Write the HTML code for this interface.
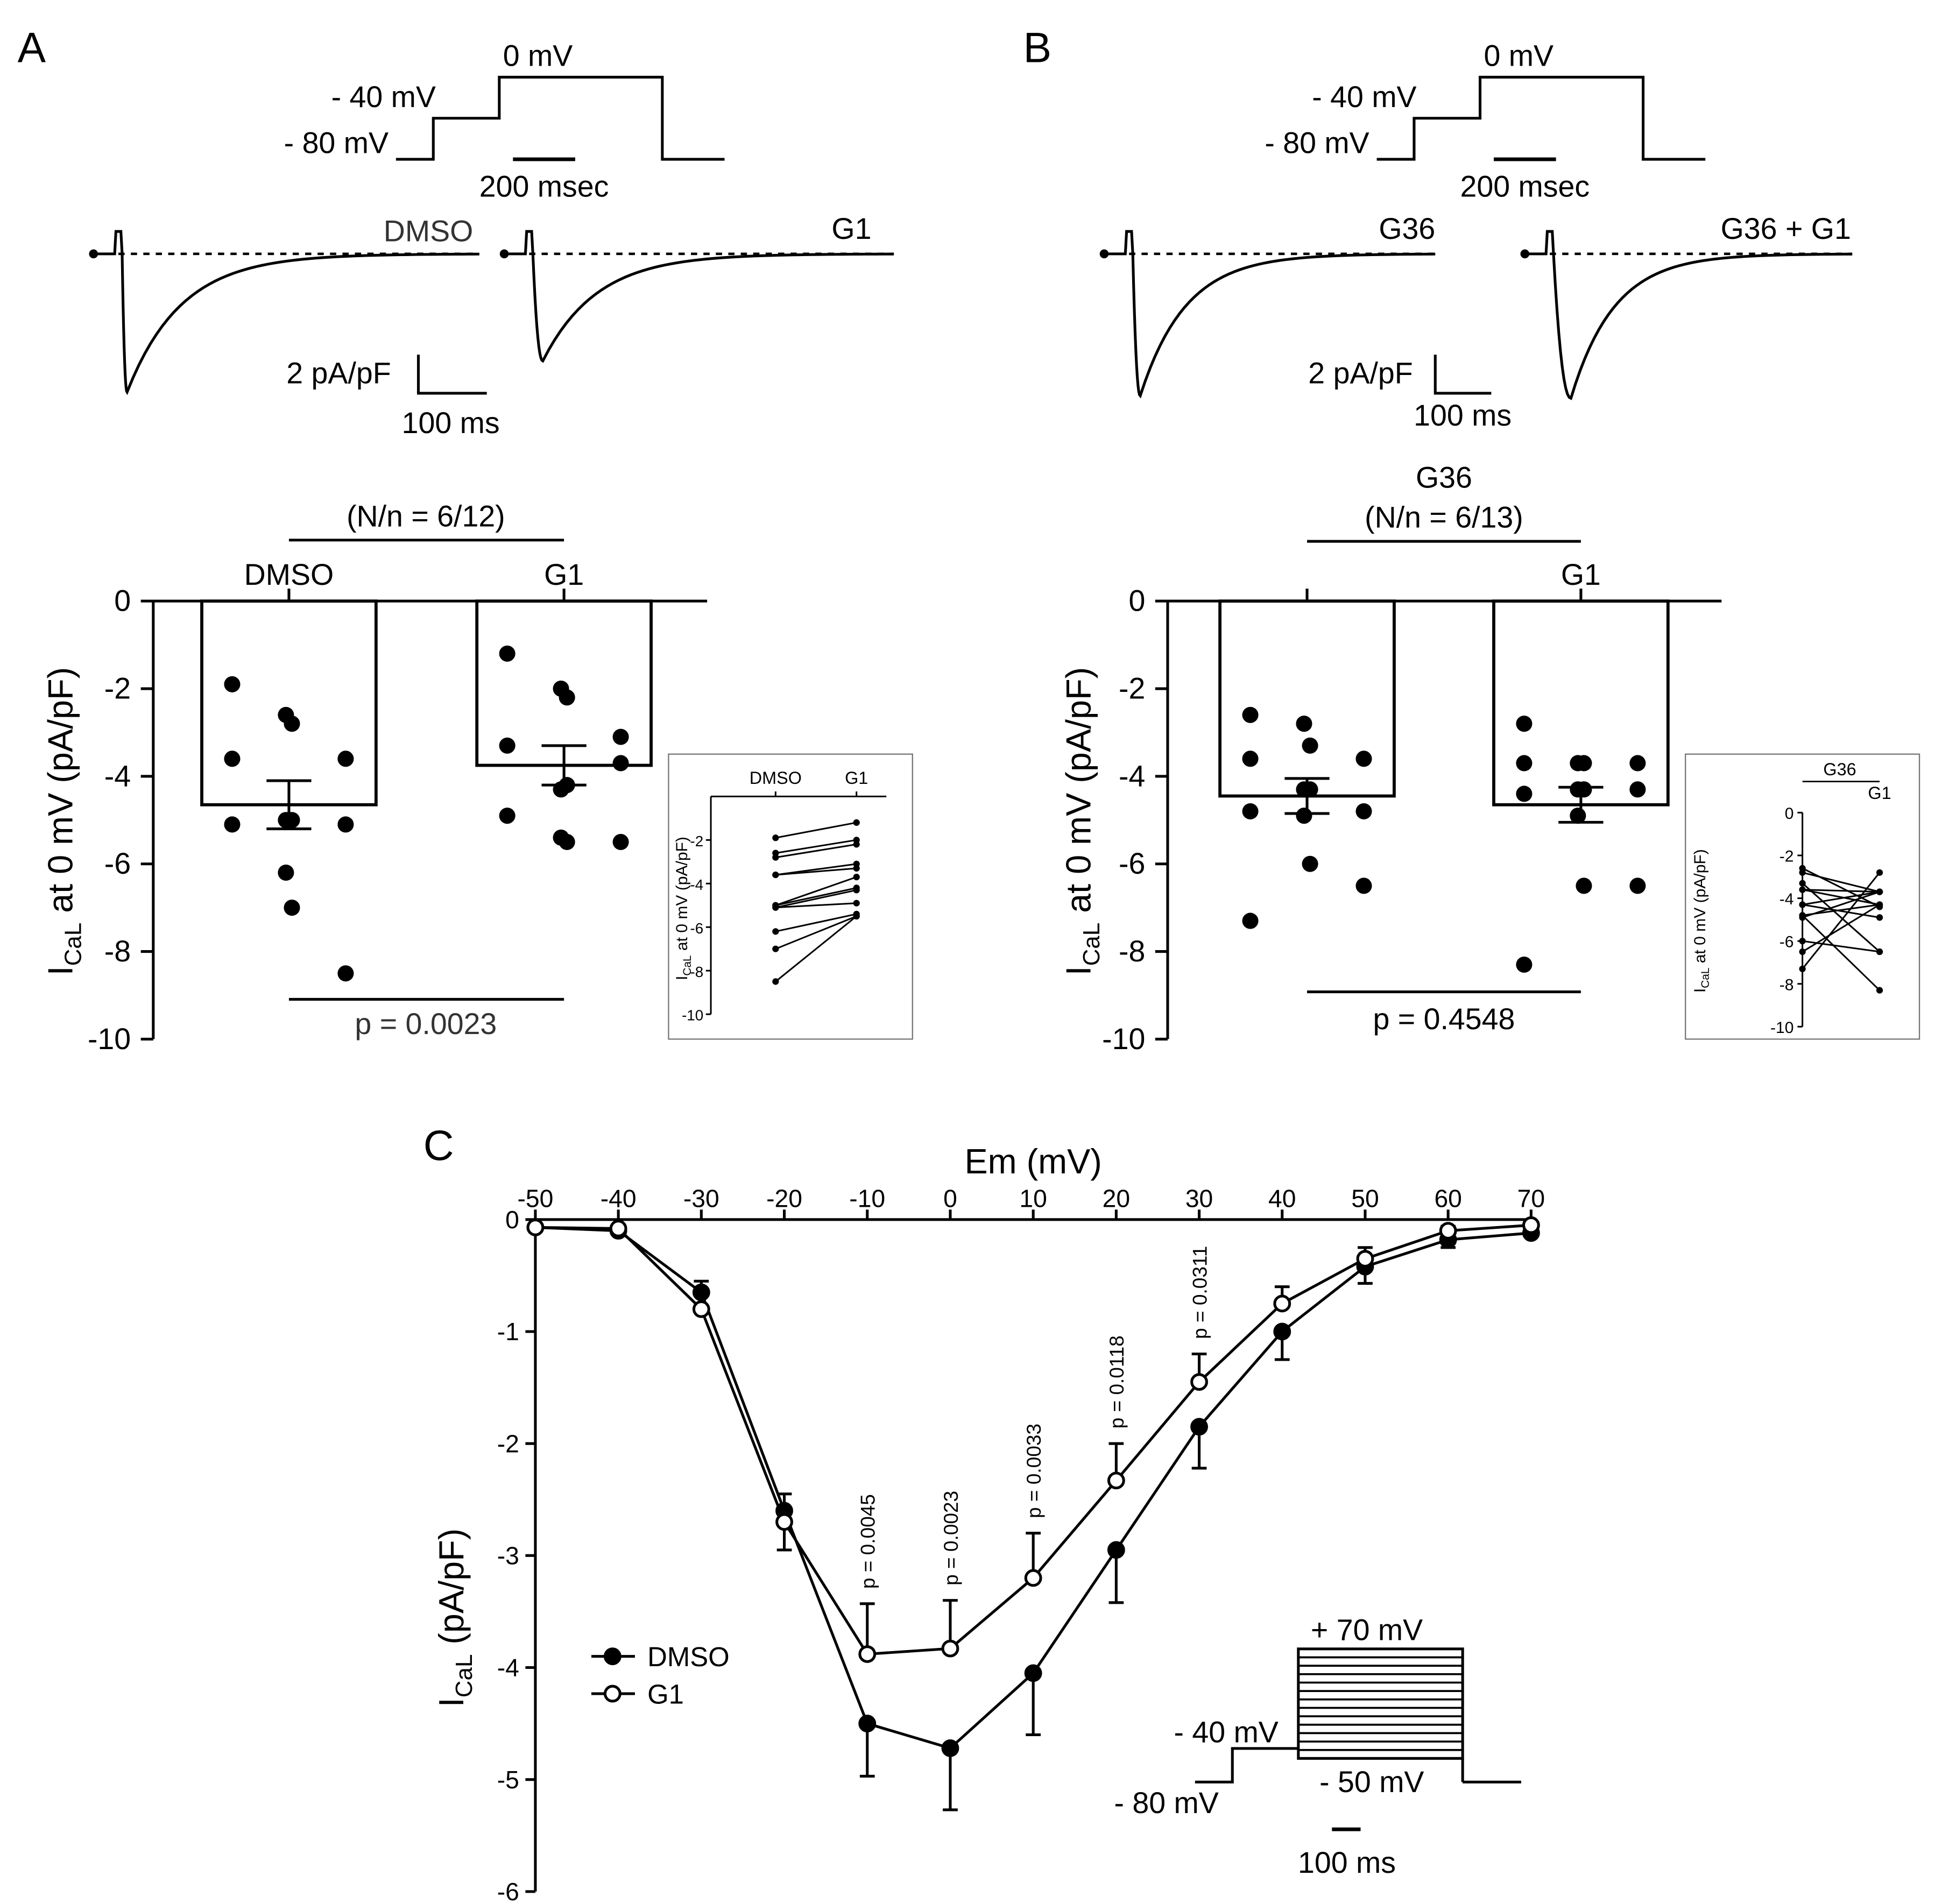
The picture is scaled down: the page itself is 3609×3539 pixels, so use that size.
<!DOCTYPE html>
<html><head><meta charset="utf-8">
<style>
html,body{margin:0;padding:0;background:#fff;}
svg{display:block;font-family:"Liberation Sans",Arial,sans-serif;}
</style></head>
<body>
<svg id="fig" width="3609" height="3539" viewBox="0 0 1560 1530" xmlns="http://www.w3.org/2000/svg">
<rect width="1560" height="1530" fill="#fff"/>
<g id="static" stroke="#000" fill="none" stroke-width="2.2">
  <text x="14" y="50" font-size="34" fill="#000" stroke="none">A</text>
  <text x="822" y="50" font-size="34" fill="#000" stroke="none">B</text>
  <text x="340" y="932" font-size="34" fill="#000" stroke="none">C</text>
  <g>
    <polyline points="318,128 348,128 348,95 401,95 401,62 532,62 532,128 582,128"/>
    <line x1="412" y1="128" x2="462" y2="128" stroke-width="3"/>
    <g fill="#000" stroke="none" font-size="24" text-anchor="middle">
      <text x="432" y="53">0 mV</text><text x="308" y="86">- 40 mV</text><text x="270" y="123">- 80 mV</text><text x="437" y="158">200 msec</text>
    </g>
  </g>
  <g transform="translate(788,0)">
    <polyline points="318,128 348,128 348,95 401,95 401,62 532,62 532,128 582,128"/>
    <line x1="412" y1="128" x2="462" y2="128" stroke-width="3"/>
    <g fill="#000" stroke="none" font-size="24" text-anchor="middle">
      <text x="432" y="53">0 mV</text><text x="308" y="86">- 40 mV</text><text x="270" y="123">- 80 mV</text><text x="437" y="158">200 msec</text>
    </g>
  </g>
  <g fill="#000" stroke="none" font-size="24" text-anchor="end">
    <text x="380" y="194" fill="#333">DMSO</text>
    <text x="700" y="192">G1</text>
    <text x="1153" y="192">G36</text>
    <text x="1487" y="192">G36 + G1</text>
  </g>
  <g>
    <polyline points="336,285 336,316 391,316"/>
    <g fill="#000" stroke="none" font-size="24" text-anchor="middle"><text x="272" y="308">2 pA/pF</text><text x="362" y="348">100 ms</text></g>
  </g>
  <g>
    <polyline points="1153,285 1153,316 1198,316"/>
    <g fill="#000" stroke="none" font-size="24" text-anchor="middle"><text x="1093" y="308">2 pA/pF</text><text x="1175" y="342">100 ms</text></g>
  </g>
  <g fill="#000" stroke="none" font-size="24" text-anchor="middle">
    <text x="342" y="423">(N/n = 6/12)</text>
    <text x="232" y="470">DMSO</text><text x="453" y="470">G1</text>
    <text x="342" y="831" fill="#333">p = 0.0023</text>
    <text x="1160" y="392">G36</text><text x="1160" y="424">(N/n = 6/13)</text>
    <text x="1270" y="470">G1</text>
    <text x="1160" y="827">p = 0.4548</text>
  </g>
  <line x1="232" y1="434" x2="453" y2="434"/>
  <line x1="232" y1="803" x2="453" y2="803"/>
  <line x1="1050" y1="435" x2="1270" y2="435"/>
  <line x1="1050" y1="797" x2="1270" y2="797"/>
  <text transform="translate(58,660) rotate(-90)" font-size="28" text-anchor="middle" fill="#000" stroke="none">I<tspan font-size="19" dy="7">CaL</tspan><tspan dy="-7"> at 0 mV (pA/pF)</tspan></text>
  <text transform="translate(876,660) rotate(-90)" font-size="28" text-anchor="middle" fill="#000" stroke="none">I<tspan font-size="19" dy="7">CaL</tspan><tspan dy="-7"> at 0 mV (pA/pF)</tspan></text>
  <text transform="translate(372,1300) rotate(-90)" font-size="28" text-anchor="middle" fill="#000" stroke="none">I<tspan font-size="19" dy="7">CaL</tspan><tspan dy="-7"> (pA/pF)</tspan></text>
  <text x="830" y="943" font-size="28" text-anchor="middle" fill="#000" stroke="none">Em (mV)</text>
  <rect x="537" y="606" width="196" height="229" stroke-width="1" stroke="#777"/>
  <rect x="1354" y="606" width="188" height="229" stroke-width="1" stroke="#777"/>
  <text transform="translate(552,730) rotate(-90)" font-size="13" text-anchor="middle" fill="#000" stroke="none">I<tspan font-size="9" dy="3">CaL</tspan><tspan dy="-3"> at 0 mV (pA/pF)</tspan></text>
  <text transform="translate(1370,740) rotate(-90)" font-size="13" text-anchor="middle" fill="#000" stroke="none">I<tspan font-size="9" dy="3">CaL</tspan><tspan dy="-3"> at 0 mV (pA/pF)</tspan></text>
  <g fill="#000" stroke="none" font-size="14" text-anchor="middle"><text x="623" y="630">DMSO</text><text x="688" y="630">G1</text><text x="1478" y="623">G36</text><text x="1510" y="642">G1</text></g>
  <line x1="1448" y1="628" x2="1510" y2="628" stroke-width="1.2"/>
  <g>
    <polyline points="960,1432 990,1432 990,1405 1043,1405"/>
    <rect x="1043" y="1325" width="132" height="88"/>
    <polyline points="1175,1432 1222,1432"/>
    <line x1="1175" y1="1413" x2="1175" y2="1432"/>
    <line x1="1070" y1="1470" x2="1093" y2="1470" stroke-width="3"/>
    <g fill="#000" stroke="none" font-size="24" text-anchor="middle">
      <text x="1098" y="1318">+ 70 mV</text><text x="985" y="1400">- 40 mV</text><text x="1102" y="1440">- 50 mV</text><text x="937" y="1457">- 80 mV</text><text x="1082" y="1505">100 ms</text>
    </g>
  </g>
  <g>
    <line x1="475" y1="1331" x2="510" y2="1331"/><circle cx="492" cy="1331" r="6" fill="#000"/>
    <line x1="475" y1="1361" x2="510" y2="1361"/><circle cx="492" cy="1361" r="6" fill="#fff"/>
    <g fill="#000" stroke="none" font-size="22"><text x="520" y="1339">DMSO</text><text x="520" y="1369">G1</text></g>
  </g>
</g>
<g id="dyn" stroke="#000" fill="none" stroke-width="2.2"></g>
</svg>
<script>
const barCatsA = ["DMSO", "G1"];
const barMeansA = [-4.65, -3.75];
const barSemA = [0.55, 0.45];
const dotsDMSO = [-1.9, -2.6, -2.8, -3.6, -3.6, -5.0, -5.0, -5.1, -5.1, -6.2, -7.0, -8.5];
const dotsG1 = [-1.2, -2.0, -2.2, -3.1, -3.3, -4.3, -4.2, -3.7, -4.9, -5.4, -5.5, -5.5];
const barCatsB = ["G36", "G36+G1"];
const barMeansB = [-4.45, -4.65];
const barSemB = [0.4, 0.4];
const dotsG36 = [-2.6, -2.8, -3.3, -3.6, -3.6, -4.3, -4.3, -4.8, -4.8, -4.9, -6.0, -6.5, -7.3];
const dotsG36G1 = [-2.8, -3.7, -3.7, -3.7, -3.7, -4.3, -4.3, -4.3, -4.4, -4.9, -6.5, -6.5, -8.3];
const yTicksBar = [0, -2, -4, -6, -8, -10];
const ivVolt = [-50, -40, -30, -20, -10, 0, 10, 20, 30, 40, 50, 60, 70];
const ivDMSO = [-0.07, -0.1, -0.65, -2.6, -4.5, -4.72, -4.05, -2.95, -1.85, -1.0, -0.42, -0.18, -0.12];
const ivDMSOsem = [0.02, 0.02, 0.12, 0.35, 0.47, 0.55, 0.55, 0.47, 0.37, 0.25, 0.15, 0.07, 0.03];
const ivG1 = [-0.07, -0.08, -0.8, -2.7, -3.88, -3.83, -3.2, -2.33, -1.45, -0.75, -0.35, -0.1, -0.05];
const ivG1sem = [0.02, 0.02, 0.25, 0.25, 0.45, 0.43, 0.4, 0.33, 0.25, 0.15, 0.1, 0.04, 0.02];
const ivPV = [-10, 0, 10, 20, 30];
const ivPLabels = ["p = 0.0045", "p = 0.0023", "p = 0.0033", "p = 0.0118", "p = 0.0311"];
const yTicksC = [0, -1, -2, -3, -4, -5, -6];

const NS = "http://www.w3.org/2000/svg";
const root = document.getElementById("dyn");
function mk(tag, attrs, parent) {
  const e = document.createElementNS(NS, tag);
  for (const k in attrs) e.setAttribute(k, attrs[k]);
  (parent || root).appendChild(e);
  return e;
}
function txt(x, y, s, size, anchor, parent) {
  const t = mk("text", {x: x, y: y, "font-size": size, "text-anchor": anchor || "middle", fill: "#000", stroke: "none"}, parent);
  t.textContent = s; return t;
}

function barPanel(ax, y0, y10, axEnd, cx, means, sems, dotsets, name) {
  const g = mk("g", {});
  
  
  const ys = v => y0 + (v / -10) * (y10 - y0);
  mk("line", {x1: ax, y1: y0, x2: ax, y2: y10}, g);
  mk("line", {x1: ax, y1: y0, x2: axEnd, y2: y0}, g);
  yTicksBar.forEach(v => {
    mk("line", {x1: ax - 10, y1: ys(v), x2: ax, y2: ys(v)}, g);
    txt(ax - 18, ys(v) + 8, String(v), 24, "end", g);
  });
  cx.forEach((c, i) => {
    mk("line", {x1: c, y1: y0, x2: c, y2: y0 - 10}, g);
    const bar = mk("rect", {x: c - 70, y: y0, width: 140, height: ys(means[i]) - y0, fill: "#fff", stroke: "#000", "stroke-width": 2.5}, g);
    
    
    const ds = dotsets[i];
    ds.forEach((v, j) => {
      const off = ((j % 4) - 1.5) * 15 + (j % 2 ? 6 : -6);
      const d = mk("circle", {cx: c + off * 1.6, cy: ys(v), r: 6.5, fill: "#000", stroke: "none"}, g);
      
      
    });
    mk("line", {x1: c - 35, y1: ys(means[i]), x2: c + 35, y2: ys(means[i])}, g);
    mk("line", {x1: c, y1: ys(means[i] + sems[i]), x2: c, y2: ys(means[i] - sems[i])}, g);
    mk("line", {x1: c - 18, y1: ys(means[i] + sems[i]), x2: c + 18, y2: ys(means[i] + sems[i])}, g);
    mk("line", {x1: c - 18, y1: ys(means[i] - sems[i]), x2: c + 18, y2: ys(means[i] - sems[i])}, g);
  });
}
barPanel(123, 483, 835, 568, [232, 453], barMeansA, barSemA, [dotsDMSO, dotsG1], "bar-chart-a");
barPanel(938, 483, 835, 1383, [1050, 1270], barMeansB, barSemB, [dotsG36, dotsG36G1], "bar-chart-b");

function inset(ax, y0, y10, x1, x2, a, b, name) {
  const g = mk("g", {"stroke-width": 1.3});
  
  
  const ys = v => y0 + (v / -10) * (y10 - y0);
  mk("line", {x1: ax, y1: y0, x2: ax, y2: y10}, g);
  yTicksBar.forEach(v => {
    mk("line", {x1: ax - 4, y1: ys(v), x2: ax, y2: ys(v)}, g);
    txt(ax - 7, ys(v) + 5, String(v), 13, "end", g);
  });
  const sa = a.slice().sort((p, q) => p - q);
  sa.forEach((v, i) => {
    mk("line", {x1: x1, y1: ys(v), x2: x2, y2: ys(b[(i * 5) % b.length])}, g);
    mk("circle", {cx: x1, cy: ys(v), r: 2, fill: "#000"}, g);
    mk("circle", {cx: x2, cy: ys(b[(i * 5) % b.length]), r: 2, fill: "#000"}, g);
  });
}
(function () {
  const g = mk("g", {"stroke-width": 1.3});
  
  
  const ax = 571, y0 = 640, y10 = 815, ys = v => y0 + (v / -10) * (y10 - y0);
  mk("line", {x1: ax, y1: y0, x2: ax, y2: y10}, g);
  mk("line", {x1: ax, y1: y0, x2: 712, y2: y0}, g);
  [623, 688].forEach(c => mk("line", {x1: c, y1: y0, x2: c, y2: y0 - 4}, g));
  yTicksBar.slice(1).forEach(v => {
    mk("line", {x1: ax - 4, y1: ys(v), x2: ax, y2: ys(v)}, g);
    txt(ax - 6, ys(v) + 5, String(v), 12, "end", g);
  });
  const a = dotsDMSO.slice().sort((p, q) => q - p), b = dotsG1.slice().sort((p, q) => q - p);
  a.forEach((v, i) => {
    mk("line", {x1: 623, y1: ys(v), x2: 688, y2: ys(b[i])}, g);
    mk("circle", {cx: 623, cy: ys(v), r: 2, fill: "#000"}, g);
    mk("circle", {cx: 688, cy: ys(b[i]), r: 2, fill: "#000"}, g);
  });
})();
inset(1448, 653, 825, 1448, 1510, dotsG36, dotsG36G1, "inset-chart-b");

function trace(x0, minX, minY, end, name) {
  const g = mk("g", {});
  
  
  const base = 204;
  mk("line", {x1: x0 - 15, y1: base, x2: end, y2: base, "stroke-dasharray": "5,5", "stroke-width": 2}, g);
  let p = `M${x0 - 15},${base} L${x0 + 2},${base} L${x0 + 3},${base - 18} L${x0 + 7},${base - 18} L${x0 + 8},${base}`;
  const sx = x0 + 8, D = minX - sx;
  for (let i = 1; i <= 10; i++) {
    const t = i / 10;
    p += ` L${sx + t * D},${base + (minY - base) * (1 - Math.pow(1 - t, 2.2))}`;
  }
  const L = end - minX;
  for (let i = 1; i <= 60; i++) {
    const t = i / 60;
    p += ` L${minX + t * L},${base + (minY - base) * Math.exp(-t * 6.5)}`;
  }
  mk("path", {d: p, "stroke-width": 2.2}, g);
  mk("circle", {cx: x0 - 15, cy: base, r: 2.5, fill: "#000"}, g);
}
trace(90, 102, 315, 385, "trace-dmso");
trace(420, 436, 290, 718, "trace-g1");
trace(902, 916, 318, 1153, "trace-g36");
trace(1240, 1262, 320, 1488, "trace-g36-g1");

(function () {
  const g = mk("g", {"stroke-width": 1.6});
  for (let i = 1; i < 13; i++) mk("line", {x1: 1043, y1: 1325 + i * 88 / 13, x2: 1175, y2: 1325 + i * 88 / 13}, g);
})();

(function () {
  const g = mk("g", {});
  
  
  const xs = v => 430 + (v + 50) * (800 / 120);
  const ys = v => 980 + (-v) * 90;
  mk("line", {x1: 430, y1: 980, x2: 430, y2: 1520}, g);
  mk("line", {x1: 430, y1: 980, x2: 1230, y2: 980}, g);
  ivVolt.forEach(v => {
    mk("line", {x1: xs(v), y1: 980, x2: xs(v), y2: 972}, g);
    txt(xs(v), 970, String(v), 20, "middle", g);
  });
  yTicksC.forEach(v => {
    mk("line", {x1: 422, y1: ys(v), x2: 430, y2: ys(v)}, g);
    txt(417, ys(v) + 7, String(v), 20, "end", g);
  });
  ivVolt.forEach((v, i) => {
    const x = xs(v);
    mk("line", {x1: x, y1: ys(ivDMSO[i]), x2: x, y2: ys(ivDMSO[i] - ivDMSOsem[i])}, g);
    mk("line", {x1: x - 6, y1: ys(ivDMSO[i] - ivDMSOsem[i]), x2: x + 6, y2: ys(ivDMSO[i] - ivDMSOsem[i])}, g);
    mk("line", {x1: x, y1: ys(ivG1[i]), x2: x, y2: ys(ivG1[i] + ivG1sem[i])}, g);
    mk("line", {x1: x - 6, y1: ys(ivG1[i] + ivG1sem[i]), x2: x + 6, y2: ys(ivG1[i] + ivG1sem[i])}, g);
  });
  const lineD = mk("polyline", {points: ivVolt.map((v, i) => xs(v) + "," + ys(ivDMSO[i])).join(" ")}, g);
  
  
  const lineG = mk("polyline", {points: ivVolt.map((v, i) => xs(v) + "," + ys(ivG1[i])).join(" ")}, g);
  
  
  ivVolt.forEach((v, i) => {
    const a = mk("circle", {cx: xs(v), cy: ys(ivDMSO[i]), r: 6, fill: "#000"}, g);
    
    
    const b = mk("circle", {cx: xs(v), cy: ys(ivG1[i]), r: 6, fill: "#fff"}, g);
    
    
  });
  ivPV.forEach((v, k) => {
    const i = ivVolt.indexOf(v);
    const y = ys(ivG1[i] + ivG1sem[i]) - 12;
    const t = mk("text", {x: 0, y: 0, "font-size": 16, "text-anchor": "start", fill: "#000", stroke: "none",
      transform: `translate(${xs(v) + 6},${y}) rotate(-90)`}, g);
    t.textContent = ivPLabels[k];
    
    
  });
})();
</script>
</body></html>
